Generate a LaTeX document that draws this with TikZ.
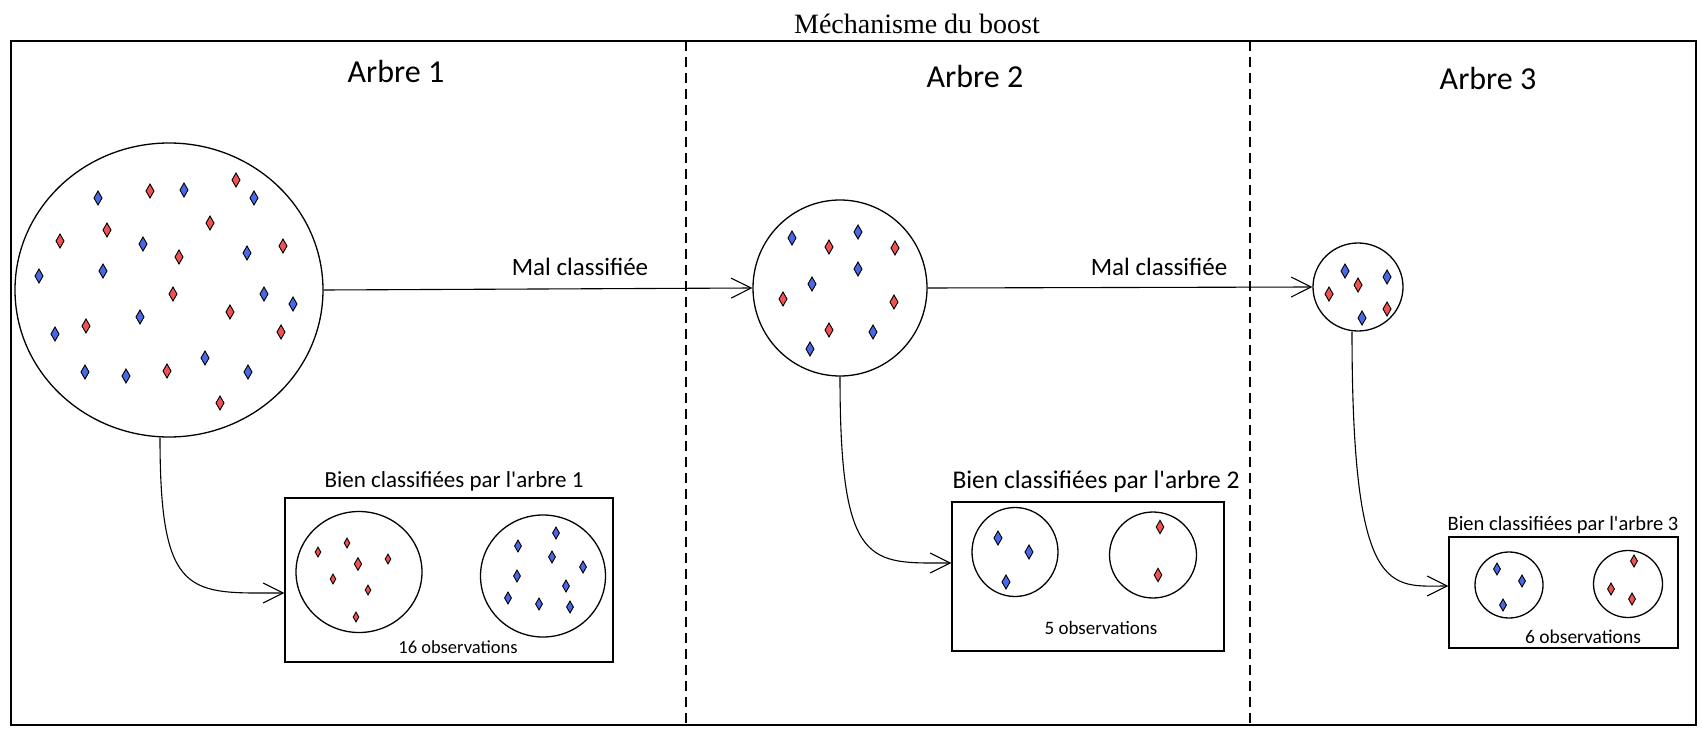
\documentclass[tikz,border=0pt]{standalone}
\usepackage{fontspec}
\setmainfont{Liberation Serif}
\newfontfamily\handfont{Carlito}
\usetikzlibrary{arrows.meta,calc,shapes.geometric}
\definecolor{dred}{RGB}{240,82,82}
\definecolor{dblue}{RGB}{72,104,230}
\tikzset{
  obs/.style={ellipse, draw, line width=1.3pt, inner sep=0pt},
  boxframe/.style={draw, line width=1.3pt, inner sep=0pt},
  hand/.style={font=\handfont\fontsize{#1}{#1}\selectfont, inner sep=0pt},
  conn/.style={line width=1.1pt, -{Straight Barb[length=20pt,width=20pt,line width=1.1pt]}},
  sepline/.style={line width=1.1pt, dash pattern=on 10pt off 6pt},
}
\newcommand\dmd[4]{\draw[line width=0.9pt, fill=#3, line join=miter] (#1,#2) ++(0,-7*#4) -- ++(4*#4,7*#4) -- ++(-4*#4,7*#4) -- ++(-4*#4,-7*#4) -- cycle;}
\begin{document}
\begin{tikzpicture}[x=1pt,y=-1pt]
\useasboundingbox (0,0) rectangle (1702,738);
% title and frame
\node[font=\fontsize{28}{28}\selectfont, inner sep=0pt] (title) at (917,24) {Méchanisme du boost};
\node[boxframe, minimum width=1685pt, minimum height=684pt] (outer) at (853.5,383) {};
\coordinate (d1t) at (686,41); \coordinate (d1b) at (686,725);
\coordinate (d2t) at (1250,41); \coordinate (d2b) at (1250,725);
\draw[sepline] (d1t) -- (d1b);
\draw[sepline] (d2t) -- (d2b);
% headers
\node[hand=32] (a1) at (396,72) {Arbre 1};
\node[hand=32] (a2) at (975,77) {Arbre 2};
\node[hand=32] (a3) at (1488,79) {Arbre 3};
% main circles
\node[obs, minimum width=308pt, minimum height=294pt] (c1) at (169,290) {};
\node[obs, minimum width=174pt, minimum height=176pt] (c2) at (840,288) {};
\node[obs, minimum width=90pt, minimum height=88pt] (c3) at (1358,287) {};
% boxes
\node[boxframe, minimum width=328pt, minimum height=164pt] (box1) at (449,580) {};
\node[boxframe, minimum width=272pt, minimum height=149pt] (box2) at (1088,576.5) {};
\node[boxframe, minimum width=229pt, minimum height=111pt] (box3) at (1563.5,592.5) {};
% inner circles
\node[obs, minimum width=126pt, minimum height=121pt] (b1l) at (359,572) {};
\node[obs, minimum width=125pt, minimum height=122pt] (b1r) at (543,576) {};
\node[obs, minimum width=86pt, minimum height=89pt] (b2l) at (1015,552) {};
\node[obs, minimum width=87pt, minimum height=86pt] (b2r) at (1153,555) {};
\node[obs, minimum width=68pt, minimum height=66pt] (b3l) at (1509,585) {};
\node[obs, minimum width=69pt, minimum height=67pt] (b3r) at (1628,584) {};
% labels
\node[hand=25] (m1) at (580,267) {Mal classifiée};
\node[hand=25] (m2) at (1159,267) {Mal classifiée};
\node[hand=23] (l1) at (454,481) {Bien classifiées par l'arbre 1};
\node[hand=25.5] (l2) at (1096,482) {Bien classifiées par l'arbre 2};
\node[hand=20.5] (l3) at (1563,525) {Bien classifiées par l'arbre 3};
\node[hand=18.5] (o1) at (458,647) {16 observations};
\node[hand=19] (o2) at (1101,628) {5 observations};
\node[hand=19.5] (o3) at (1583,637) {6 observations};
% connectors
\draw[conn] (c1.east) -- (c2.west);
\draw[conn] (c2.east) -- (c3.west);
\draw[conn] ([xshift=-9pt]c1.south) .. controls (160,600) and (190,593) .. ([yshift=-13pt]box1.west);
\draw[conn] (c2.south) .. controls (840,570) and (870,563) .. ([yshift=13.5pt]box2.west);
\draw[conn] ([xshift=-6pt]c3.south) .. controls (1352,600) and (1390,586) .. ([yshift=6.5pt]box3.west);
% diamonds: big circle
\foreach \x/\y in {98/198,184/190,254/198,143/244,247/253,39/276,103/271,264/294,293/304,140/317,55/334,205/358,85/372,126/376,248/372}{\dmd{\x}{\y}{dblue}{1}}
\foreach \x/\y in {150/191,236/180,210/223,107/230,60/241,179/257,283/246,173/294,230/312,86/326,281/332,167/371,220/403}{\dmd{\x}{\y}{dred}{1}}
% circle 2
\foreach \x/\y in {792/238,858/232,858/269,812/284,873/332,810/349}{\dmd{\x}{\y}{dblue}{1}}
\foreach \x/\y in {829/247,895/248,783/299,894/302,829/330}{\dmd{\x}{\y}{dred}{1}}
% circle 3
\foreach \x/\y in {1345/271,1387/277,1362/318}{\dmd{\x}{\y}{dblue}{1}}
\foreach \x/\y in {1358/285,1329/294,1387/309}{\dmd{\x}{\y}{dred}{1}}
% box 1
\foreach \x/\y in {347/543,318/552,388/559,333/579,368/590,356/617}{\dmd{\x}{\y}{dred}{0.7}}
\dmd{358}{564}{dred}{0.9}
\foreach \x/\y in {556/533,518/546,552/557,583/567,517/576,566/586,508/598,539/604,570/607}{\dmd{\x}{\y}{dblue}{0.85}}
% box 2
\foreach \x/\y in {998/538,1029/552,1006/582}{\dmd{\x}{\y}{dblue}{1}}
\foreach \x/\y in {1160/527,1158/575}{\dmd{\x}{\y}{dred}{0.95}}
% box 3
\foreach \x/\y in {1497/569,1522/581,1503/605}{\dmd{\x}{\y}{dblue}{0.85}}
\foreach \x/\y in {1634/561,1611/589,1632/599}{\dmd{\x}{\y}{dred}{0.85}}
\end{tikzpicture}
\end{document}
